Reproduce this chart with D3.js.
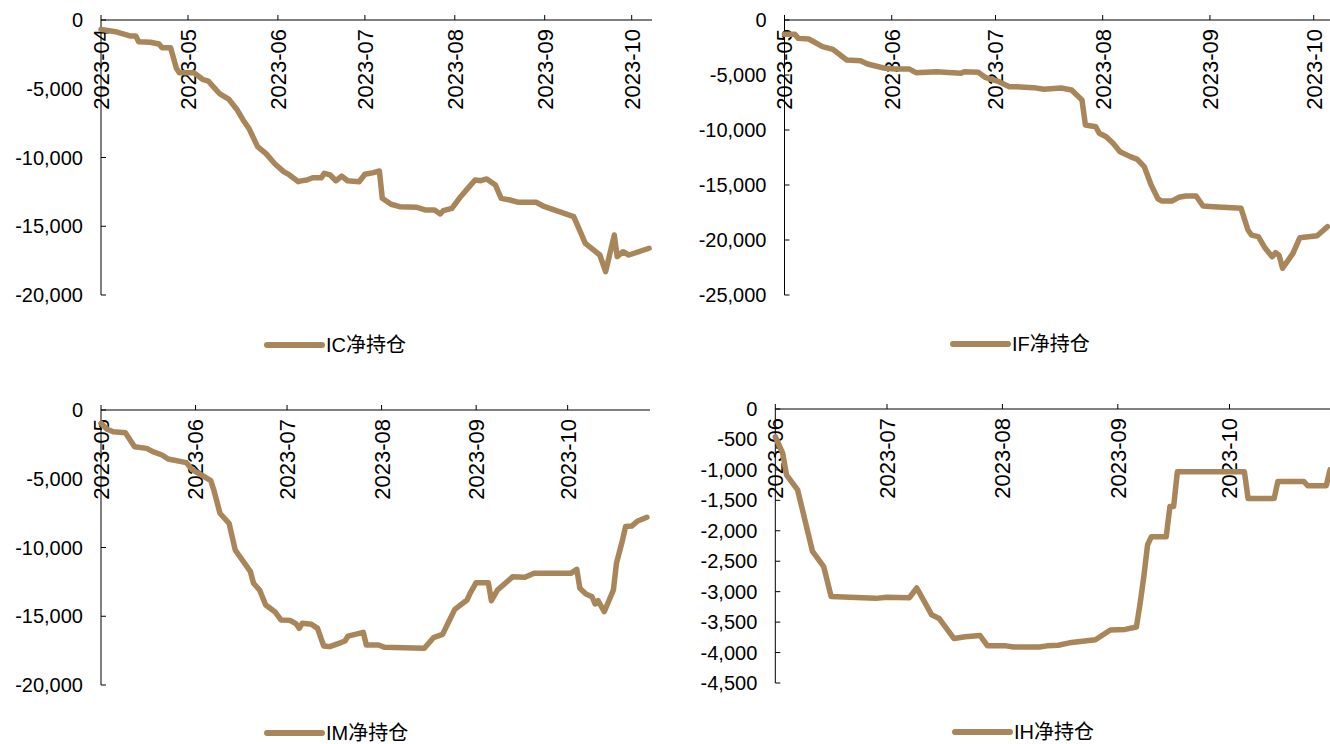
<!DOCTYPE html>
<html>
<head>
<meta charset="utf-8">
<script src="https://cdn.jsdelivr.net/npm/d3@7"></script>
<style>
  html, body { margin: 0; padding: 0; background: #fff; }
  svg { display: block; }
  text { font-family: "Liberation Sans", Arial, "Noto Sans CJK SC", sans-serif; fill: #000; }
</style>
</head>
<body>
<svg id="chart" width="1330" height="744"></svg>
<script>
// ---- Net position series (contracts), one per futures contract ----
const icDates = ["2023-04-01","2023-04-06","2023-04-08","2023-04-11","2023-04-13","2023-04-14","2023-04-18","2023-04-21","2023-04-22","2023-04-25","2023-04-27","2023-04-28","2023-05-03","2023-05-06","2023-05-08","2023-05-12","2023-05-15","2023-05-18","2023-05-20","2023-05-22","2023-05-25","2023-05-28","2023-05-31","2023-06-03","2023-06-05","2023-06-08","2023-06-09","2023-06-11","2023-06-13","2023-06-16","2023-06-17","2023-06-19","2023-06-21","2023-06-23","2023-06-25","2023-06-29","2023-07-01","2023-07-04","2023-07-06","2023-07-07","2023-07-10","2023-07-13","2023-07-19","2023-07-22","2023-07-25","2023-07-27","2023-07-28","2023-07-31","2023-08-03","2023-08-06","2023-08-08","2023-08-10","2023-08-12","2023-08-15","2023-08-17","2023-08-20","2023-08-23","2023-08-29","2023-09-01","2023-09-11","2023-09-13","2023-09-15","2023-09-20","2023-09-22","2023-09-25","2023-09-26","2023-09-28","2023-09-30","2023-10-07"];
const icValues = [-680,-850,-970,-1160,-1160,-1580,-1620,-1750,-2010,-2010,-3510,-3830,-3830,-4310,-4440,-5380,-5750,-6550,-7270,-7880,-9210,-9740,-10470,-11030,-11270,-11760,-11700,-11640,-11470,-11470,-11150,-11270,-11690,-11350,-11690,-11760,-11220,-11100,-10980,-12970,-13400,-13580,-13620,-13820,-13820,-14110,-13870,-13700,-12850,-12120,-11640,-11690,-11560,-12000,-12970,-13090,-13260,-13260,-13580,-14300,-15270,-16240,-17090,-18300,-15640,-17210,-16850,-17090,-16600];

const ifDates = ["2023-05-01","2023-05-04","2023-05-05","2023-05-08","2023-05-12","2023-05-15","2023-05-19","2023-05-23","2023-05-25","2023-05-30","2023-06-02","2023-06-06","2023-06-08","2023-06-14","2023-06-21","2023-06-22","2023-06-26","2023-06-28","2023-07-02","2023-07-05","2023-07-07","2023-07-12","2023-07-15","2023-07-20","2023-07-23","2023-07-26","2023-07-27","2023-07-30","2023-07-31","2023-08-02","2023-08-04","2023-08-06","2023-08-09","2023-08-11","2023-08-13","2023-08-15","2023-08-17","2023-08-18","2023-08-21","2023-08-23","2023-08-25","2023-08-28","2023-08-30","2023-09-02","2023-09-10","2023-09-12","2023-09-13","2023-09-15","2023-09-17","2023-09-19","2023-09-20","2023-09-21","2023-09-22","2023-09-25","2023-09-27","2023-10-02","2023-10-05"];
const ifValues = [-1300,-1300,-1670,-1730,-2420,-2670,-3640,-3700,-4000,-4390,-4450,-4450,-4790,-4700,-4850,-4700,-4760,-5210,-5610,-6060,-6060,-6150,-6300,-6180,-6360,-7270,-9550,-9700,-10300,-10610,-11210,-11970,-12420,-12670,-13330,-15000,-16270,-16450,-16450,-16120,-16000,-16000,-16910,-16970,-17120,-19090,-19550,-19700,-20760,-21520,-21150,-21400,-22570,-21210,-19790,-19610,-18790];

const imDates = ["2023-05-01","2023-05-03","2023-05-05","2023-05-09","2023-05-12","2023-05-16","2023-05-18","2023-05-21","2023-05-23","2023-05-29","2023-05-31","2023-06-03","2023-06-06","2023-06-07","2023-06-09","2023-06-12","2023-06-14","2023-06-19","2023-06-20","2023-06-22","2023-06-24","2023-06-27","2023-06-29","2023-07-02","2023-07-04","2023-07-05","2023-07-06","2023-07-09","2023-07-11","2023-07-13","2023-07-15","2023-07-18","2023-07-20","2023-07-21","2023-07-26","2023-07-27","2023-07-31","2023-08-02","2023-08-15","2023-08-18","2023-08-21","2023-08-23","2023-08-25","2023-08-29","2023-08-30","2023-09-01","2023-09-05","2023-09-06","2023-09-08","2023-09-13","2023-09-17","2023-09-20","2023-10-02","2023-10-04","2023-10-05","2023-10-07","2023-10-09","2023-10-10","2023-10-11","2023-10-13","2023-10-16","2023-10-17","2023-10-19","2023-10-20","2023-10-22","2023-10-24","2023-10-27"];
const imValues = [-970,-1400,-1580,-1650,-2670,-2790,-3030,-3270,-3560,-3830,-4360,-4730,-5140,-5820,-7510,-8240,-10180,-11760,-12600,-13090,-14180,-14670,-15270,-15300,-15560,-15880,-15510,-15580,-15880,-17160,-17210,-16970,-16800,-16440,-16170,-17090,-17090,-17260,-17330,-16560,-16320,-15400,-14500,-13820,-13330,-12560,-12560,-13870,-13090,-12120,-12170,-11880,-11880,-11590,-12970,-13380,-13580,-14110,-13870,-14670,-13090,-11150,-9450,-8480,-8440,-8070,-7800];

const ihDates = ["2023-06-01","2023-06-03","2023-06-04","2023-06-07","2023-06-11","2023-06-14","2023-06-16","2023-06-21","2023-06-28","2023-07-01","2023-07-07","2023-07-09","2023-07-11","2023-07-13","2023-07-15","2023-07-19","2023-07-22","2023-07-26","2023-07-28","2023-08-02","2023-08-04","2023-08-11","2023-08-13","2023-08-16","2023-08-19","2023-08-26","2023-08-30","2023-09-03","2023-09-06","2023-09-07","2023-09-08","2023-09-09","2023-09-10","2023-09-14","2023-09-15","2023-09-16","2023-09-17","2023-10-05","2023-10-06","2023-10-13","2023-10-14","2023-10-21","2023-10-22","2023-10-27","2023-10-28"];
const ihValues = [-455,-730,-1080,-1330,-2340,-2590,-3080,-3090,-3110,-3090,-3100,-2940,-3160,-3380,-3440,-3770,-3740,-3720,-3890,-3890,-3910,-3910,-3890,-3880,-3840,-3790,-3630,-3620,-3580,-3190,-2750,-2230,-2100,-2100,-1600,-1600,-1030,-1030,-1470,-1470,-1190,-1190,-1260,-1260,-1000];

// ---- Axis tick labels ----
const icMonths = ["2023-04","2023-05","2023-06","2023-07","2023-08","2023-09","2023-10"];
const ifMonths = ["2023-05","2023-06","2023-07","2023-08","2023-09","2023-10"];
const imMonths = ["2023-05","2023-06","2023-07","2023-08","2023-09","2023-10"];
const ihMonths = ["2023-06","2023-07","2023-08","2023-09","2023-10"];

const icTicks = [0,-5000,-10000,-15000,-20000];
const ifTicks = [0,-5000,-10000,-15000,-20000,-25000];
const imTicks = [0,-5000,-10000,-15000,-20000];
const ihTicks = [0,-500,-1000,-1500,-2000,-2500,-3000,-3500,-4000,-4500];

const seriesNames = ["IC净持仓","IF净持仓","IM净持仓","IH净持仓"];

// ---- Drawing ----
const lineColor = "#A98659";
const parse = d3.timeParse("%Y-%m-%d");
const fmt = d3.formatLocale({decimal: ".", thousands: ",", grouping: [3], currency: ["", ""], minus: "-"}).format(",");

const panels = [
  {dates: icDates, values: icValues, months: icMonths, ticks: icTicks, name: seriesNames[0],
   start: "2023-04-01", end: "2023-10-08", x0: 101, x1: 652, yTop: 20, yBot: 295, legX: 267, legY: 345},
  {dates: ifDates, values: ifValues, months: ifMonths, ticks: ifTicks, name: seriesNames[1],
   start: "2023-05-01", end: "2023-10-06", x0: 784.5, x1: 1331, yTop: 20, yBot: 295, legX: 953, legY: 344},
  {dates: imDates, values: imValues, months: imMonths, ticks: imTicks, name: seriesNames[2],
   start: "2023-05-01", end: "2023-10-28", x0: 101, x1: 650, yTop: 410, yBot: 685, legX: 267, legY: 733},
  {dates: ihDates, values: ihValues, months: ihMonths, ticks: ihTicks, name: seriesNames[3],
   start: "2023-06-01", end: "2023-10-28", x0: 775.3, x1: 1330, yTop: 409, yBot: 683, legX: 955, legY: 732}
];

const svg = d3.select("#chart");
svg.append("rect").attr("width", 1330).attr("height", 744).attr("fill", "#fff");

panels.forEach(p => {
  const x = d3.scaleTime().domain([parse(p.start), parse(p.end)]).range([p.x0, p.x1]);
  const y = d3.scaleLinear().domain([d3.min(p.ticks), 0]).range([p.yBot, p.yTop]);
  const g = svg.append("g");

  // value axis
  g.append("line").attr("x1", p.x0).attr("x2", p.x0).attr("y1", y(0)).attr("y2", y(d3.min(p.ticks)))
    .attr("stroke", "#000").attr("stroke-width", 1);
  p.ticks.forEach(t => {
    g.append("line").attr("x1", p.x0).attr("x2", p.x0 + 5).attr("y1", y(t)).attr("y2", y(t))
      .attr("stroke", "#000").attr("stroke-width", 1);
    g.append("text").attr("x", p.x0 - 18).attr("y", y(t)).attr("dy", "0.35em")
      .attr("text-anchor", "end").attr("font-size", 20).text(fmt(t));
  });

  // date axis along the zero line
  g.append("line").attr("x1", p.x0).attr("x2", p.x1).attr("y1", y(0)).attr("y2", y(0))
    .attr("stroke", "#000").attr("stroke-width", 1);
  p.months.forEach(m => {
    const tx = x(parse(m + "-01"));
    g.append("line").attr("x1", tx).attr("x2", tx).attr("y1", y(0) - 5).attr("y2", y(0))
      .attr("stroke", "#000").attr("stroke-width", 1);
    g.append("text").attr("transform", `translate(${tx},${y(0) + 9}) rotate(-90)`)
      .attr("dy", "0.36em").attr("text-anchor", "end").attr("font-size", 22).text(m);
  });

  // net position line
  const pts = p.dates.map((d, i) => [parse(d), p.values[i]]);
  const line = d3.line().x(d => x(d[0])).y(d => y(d[1]));
  g.append("path").datum(pts).attr("d", line).attr("fill", "none")
    .attr("stroke", lineColor).attr("stroke-width", 5.5)
    .attr("stroke-linejoin", "round").attr("stroke-linecap", "round");

  // legend
  const lg = g.append("g");
  lg.append("line").attr("x1", p.legX).attr("x2", p.legX + 55).attr("y1", p.legY).attr("y2", p.legY)
    .attr("stroke", lineColor).attr("stroke-width", 6).attr("stroke-linecap", "round");
  lg.append("text").attr("x", p.legX + 59).attr("y", p.legY).attr("dy", "0.33em")
    .attr("font-size", 20).text(p.name);
});
</script>
</body>
</html>
